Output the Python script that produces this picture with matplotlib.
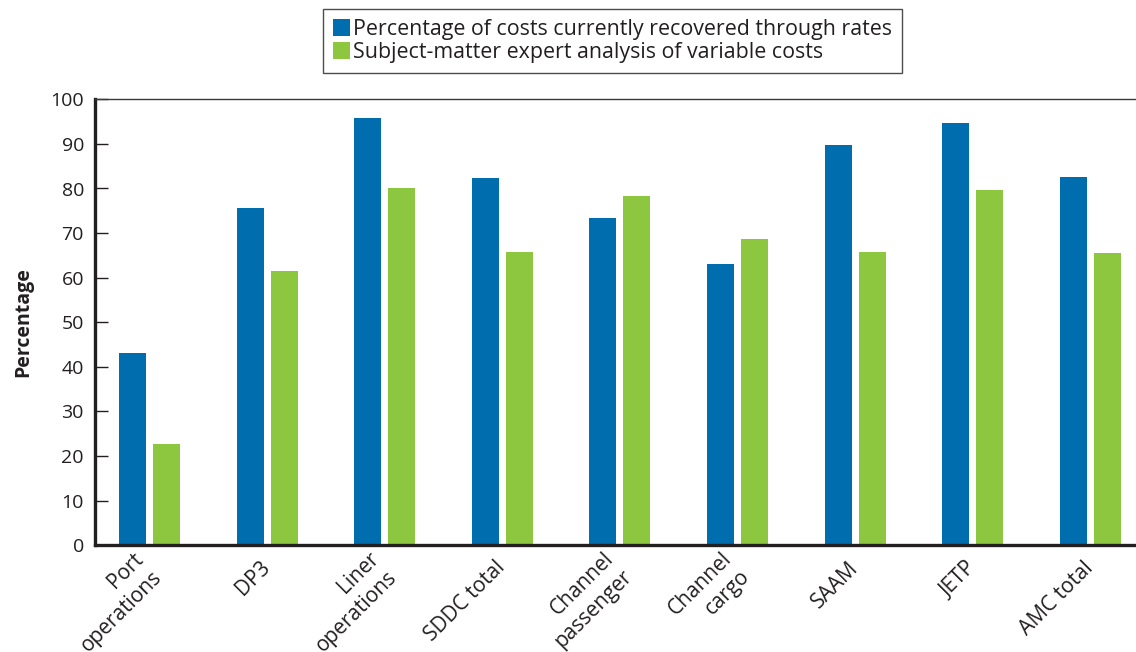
import matplotlib
matplotlib.use("Agg")
import matplotlib.pyplot as plt
import numpy as np

categories = ["Port\noperations", "DP3", "Liner\noperations", "SDDC total",
              "Channel\npassenger", "Channel\ncargo", "SAAM", "JETP", "AMC total"]
recovered = [43.2, 75.6, 95.8, 82.4, 73.4, 63.1, 89.8, 94.7, 82.6]
sme_variable = [22.7, 61.5, 80.1, 65.8, 78.3, 68.7, 65.8, 79.7, 65.6]
series_names = ["Percentage of costs currently recovered through rates",
                "Subject-matter expert analysis of variable costs"]
yticks = list(range(0, 101, 10))

BLUE = "#006DAE"
GREEN = "#8DC63F"
DARK = "#231F20"

plt.rcParams["font.family"] = ["Open Sans", "DejaVu Sans"]

fig = plt.figure(figsize=(11.36, 6.52), dpi=100)
ax = fig.add_axes([95 / 1136, 106.7 / 652, (1160 - 95) / 1136, (545.3 - 99.3) / 652])

x = np.arange(len(categories))
w = 0.23
off = 0.1446
ax.bar(x - off, recovered, width=w, color=BLUE, label=series_names[0])
ax.bar(x + off, sme_variable, width=w, color=GREEN, label=series_names[1])

ax.set_xlim(-0.463, 8.593)
ax.set_ylim(0, 100)
ax.set_yticks(yticks)
ax.tick_params(axis="y", direction="in", length=9.5, width=1.0, color=DARK,
               labelsize=14, pad=8, labelcolor=DARK)
ax.tick_params(axis="x", length=0, labelsize=15, labelcolor=DARK, pad=14)
ax.set_xticks(x)
ax.set_xticklabels(categories, rotation=45, ha="right", va="center",
                   rotation_mode="anchor", multialignment="right",
                   linespacing=1.3)

for s in ["left", "bottom"]:
    ax.spines[s].set_linewidth(2.4)
    ax.spines[s].set_color(DARK)
ax.spines["top"].set_linewidth(1.0)
ax.spines["top"].set_color("#3a3a3a")
ax.spines["right"].set_visible(False)

ax.set_ylabel("Percentage", fontsize=14, fontweight="bold", color=DARK, labelpad=12)

leg = fig.legend(loc="upper left", bbox_to_anchor=(323 / 1136, 1 - 9.3 / 652),
                 frameon=True, fancybox=False, fontsize=15.4, handlelength=0.8,
                 handleheight=0.8, handletextpad=0.15, borderpad=0.45,
                 labelspacing=0.1, borderaxespad=0)
leg.get_frame().set_edgecolor(DARK)
leg.get_frame().set_linewidth(1.0)
for t in leg.get_texts():
    t.set_color(DARK)

fig.savefig("out.png", dpi=100)
